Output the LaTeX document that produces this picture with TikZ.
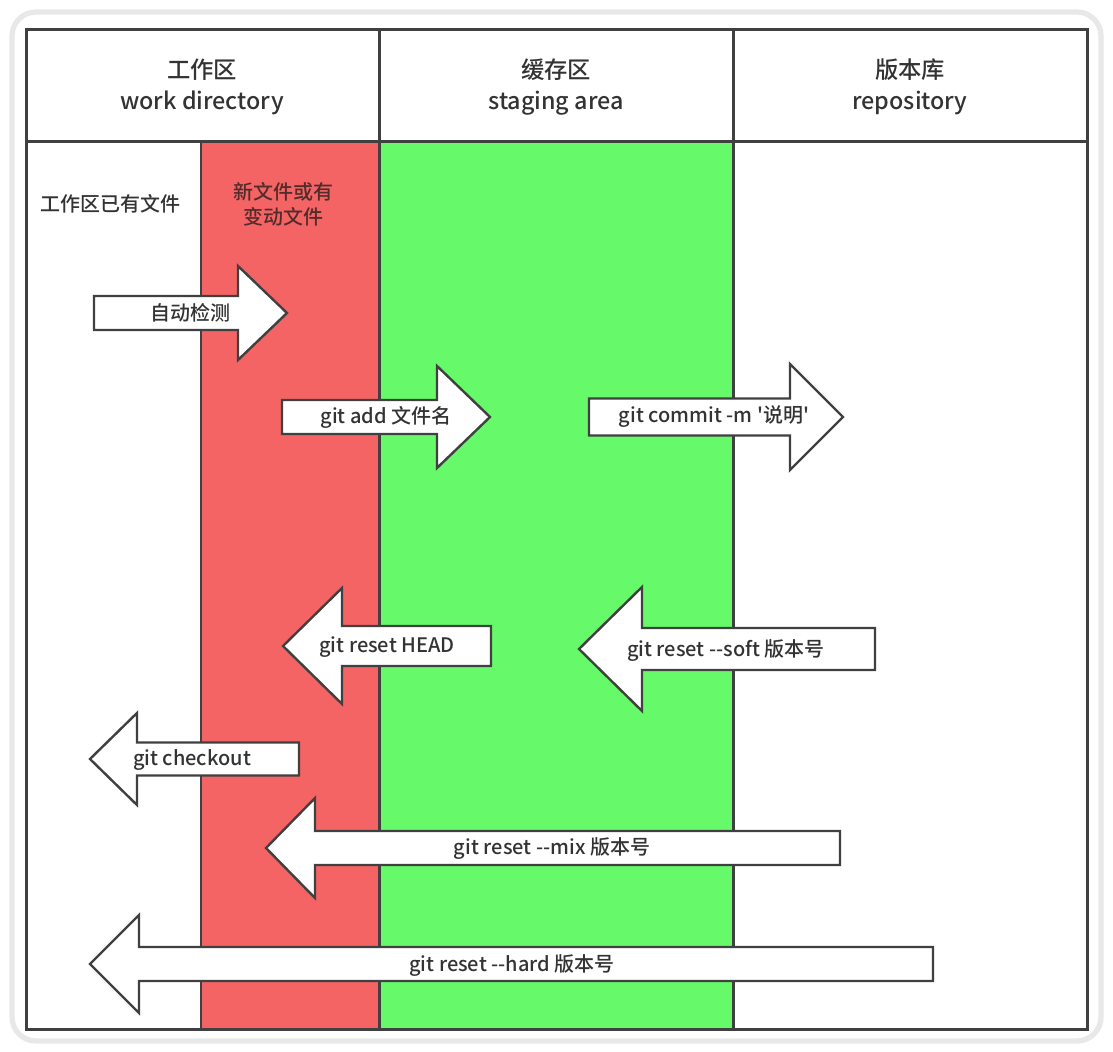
\documentclass[tikz,border=0pt]{standalone}
\usepackage{fontspec}
\newfontfamily\cjkfont{Noto Sans CJK SC Medium}
\definecolor{ink}{HTML}{333333}
\definecolor{rule}{HTML}{404040}
\definecolor{redcol}{HTML}{F46464}
\definecolor{greencol}{HTML}{66FA6A}
\definecolor{frame}{HTML}{E8E8E8}
% block arrow: tail x, head base x, tip x, centre y, half tail, half head
\newcommand{\blockarrow}[6]{%
  \draw[blk] (#1,#4-#5) -- (#2,#4-#5) -- (#2,#4-#6) -- (#3,#4)
    -- (#2,#4+#6) -- (#2,#4+#5) -- (#1,#4+#5) -- cycle;}
\begin{document}
\begin{tikzpicture}[x=0.75pt,y=-0.75pt,line join=miter,
    font=\cjkfont\fontsize{15}{19}\selectfont,text=ink]
  \tikzset{
    grid/.style={draw=rule,line width=2.25pt},
    blk/.style={draw=rule,fill=white,line width=1.8pt},
    head/.style={font=\cjkfont\fontsize{17.5}{23}\selectfont,align=center},
    lab/.style={inner sep=0pt,anchor=center}
  }
  \useasboundingbox (0,0) rectangle (1113,1052);
  % outer frame
  \draw[frame,line width=4pt,rounded corners=18pt] (12,12) rectangle (1101,1041);
  % columns
  \fill[redcol] (201,142) rectangle (379,1029);
  \fill[greencol] (379,142) rectangle (733,1029);
  \draw[rule,line width=1.5pt] (201,142) -- (201,1029);
  \draw[grid] (26,30) rectangle (1087,1029);
  \draw[grid] (26,142) -- (1087,142);
  \draw[grid] (379,30) -- (379,1029);
  \draw[grid] (733,30) -- (733,1029);
  % headers
  \node[head] (work) at (202,87) {工作区\\work directory};
  \node[head] (stage) at (556,87) {缓存区\\staging area};
  \node[head] (repo) at (910,87) {版本库\\repository};
  \node[lab] (old) at (110,204) {工作区已有文件};
  \node[lab,align=center,text=ink!85!red] (new) at (283,204) {新文件或有\\变动文件};
  % arrows
  \blockarrow{94}{238}{287}{313}{17}{47}
  \node[lab] (detect) at (190,313) {自动检测};
  \blockarrow{282}{437}{490}{417}{17}{51}
  \node[lab] (add) at (386,417) {git add 文件名};
  \blockarrow{589}{790}{843}{417}{18.5}{53}
  \node[lab] (commit) at (714,417) {git commit -m '说明'};
  \blockarrow{491}{342}{283}{646}{20}{58}
  \node[lab] (head) at (387,647) {git reset HEAD};
  \blockarrow{875}{642}{579}{649}{21}{62}
  \node[lab] (soft) at (726,651) {git reset --soft 版本号};
  \blockarrow{299}{137}{90}{759}{16.5}{46}
  \node[lab] (checkout) at (192,760) {git checkout};
  \blockarrow{840}{315}{266}{848}{17}{50}
  \node[lab] (mix) at (552,849) {git reset --mix 版本号};
  \blockarrow{933}{139}{90}{964}{17}{49}
  \node[lab] (hard) at (512,965) {git reset --hard 版本号};
\end{tikzpicture}
\end{document}
